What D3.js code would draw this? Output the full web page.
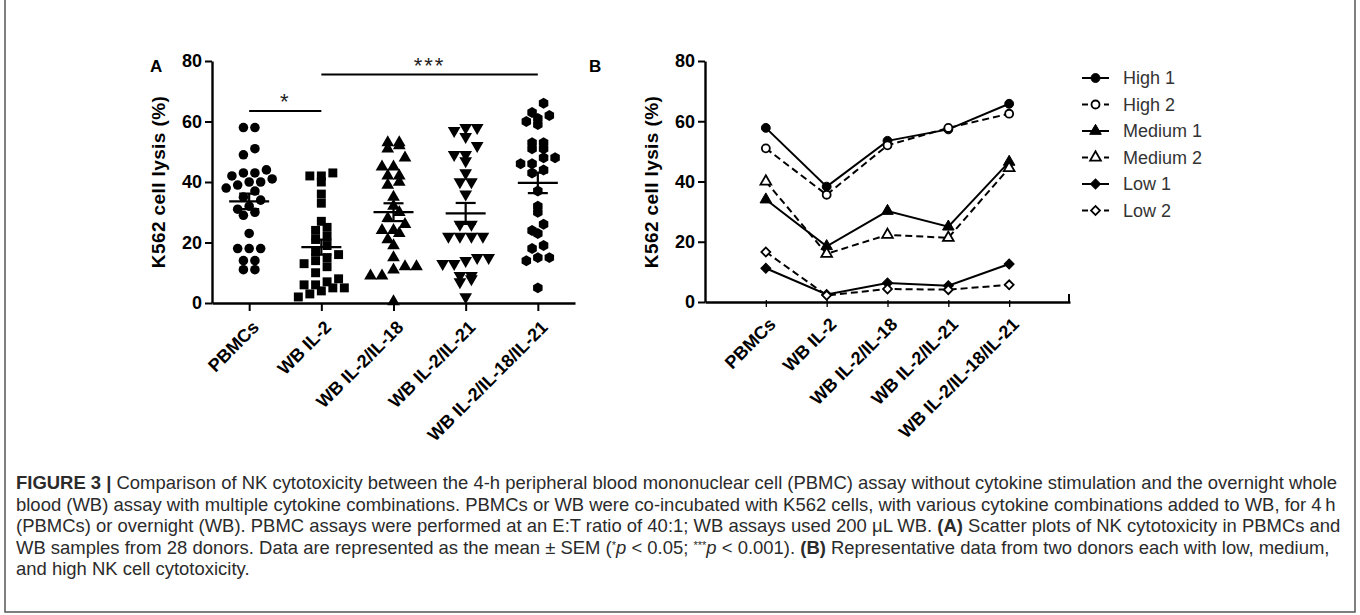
<!DOCTYPE html>
<html>
<head>
<meta charset="utf-8">
<script src="https://cdn.jsdelivr.net/npm/d3@7/dist/d3.min.js"></script>
<style>
  body { margin: 0; background: #fff; }
  text { font-family: "Liberation Sans", Arial, sans-serif; }
</style>
</head>
<body>
<svg id="fig" width="1360" height="615"></svg>
<script>
// categories
const groups = ["PBMCs", "WB IL-2", "WB IL-2/IL-18", "WB IL-2/IL-21", "WB IL-2/IL-18/IL-21"];
const yTicks = [0, 20, 40, 60, 80];

// panel A, one value per donor (28 donors)
const pbmcVals = [58, 58, 51, 49, 44, 43, 43, 42, 41, 40, 40, 39, 38, 37, 35, 34, 32, 31, 30, 29, 23, 18, 18, 18, 14, 14, 11, 11];
const il2Vals = [43, 42, 42, 40, 36, 33, 27, 25, 24, 22, 21, 19, 17, 16, 15, 14, 13, 12, 10, 8, 7, 6, 6, 5, 5, 4, 3, 2];
const il2il18Vals = [53, 53, 52, 51, 48, 45, 45, 42, 42, 40, 39, 35, 32, 30, 28, 26, 24, 24, 23, 21, 19, 15, 12, 12, 11, 9, 9, 0.5];
const il2il21Vals = [58, 58, 57, 55, 52, 49, 49, 47, 43, 40, 40, 36, 26, 26, 22, 22, 22, 22, 15, 15, 14, 13, 13, 9, 9, 8, 7, 2];
const il2il18il21Vals = [66, 63, 62, 61, 60, 59, 53, 53, 51, 51, 48, 48, 46, 46, 44, 43, 37, 32, 30, 26, 24, 23, 19, 18, 15, 15, 14, 5];
const scatterVals = [pbmcVals, il2Vals, il2il18Vals, il2il21Vals, il2il18il21Vals];

// significance bars (group index from, to, height in %)
const sigBars = [
  {from: 0, to: 1, level: 63.5, label: "*"},
  {from: 1, to: 4, level: 75.5, label: "***"}
];

// panel B, representative donors
const donorNames = ["High 1", "High 2", "Medium 1", "Medium 2", "Low 1", "Low 2"];
const high1 = [57.8, 38.3, 53.5, 57.3, 65.8];
const high2 = [51, 35.6, 52, 57.8, 62.5];
const medium1 = [34, 18.5, 30.2, 25, 46.5];
const medium2 = [40, 16, 22.3, 21.3, 44.5];
const low1 = [11.2, 2.5, 6.3, 5.4, 12.6];
const low2 = [16.6, 2.2, 4.3, 4.1, 5.7];
const donorVals = [high1, high2, medium1, medium2, low1, low2];

const svg = d3.select("#fig");

const symbolHex = {
  draw(ctx, size) {
    const r = Math.sqrt(2 * size / (3 * Math.sqrt(3)));
    for (let i = 0; i < 6; i++) {
      const a = Math.PI / 3 * i + Math.PI / 6;
      if (i === 0) ctx.moveTo(r * Math.cos(a), r * Math.sin(a));
      else ctx.lineTo(r * Math.cos(a), r * Math.sin(a));
    }
    ctx.closePath();
  }
};

function yAxisLabel(g, x, yMid) {
  g.append("text")
    .attr("transform", `translate(${x},${yMid}) rotate(-90)`)
    .attr("text-anchor", "middle")
    .style("font-size", "19px")
    .style("font-weight", "bold")
    .style("letter-spacing", "0.4px")
    .text("K562 cell lysis (%)");
}

function styleAxis(g) {
  g.selectAll("path.domain").attr("stroke", "#000").attr("stroke-width", 2.4);
  g.selectAll(".tick line").attr("stroke", "#000").attr("stroke-width", 2);
  g.selectAll(".tick text").attr("fill", "#000").style("font-weight", "bold");
}

// ---------- Panel A ----------
const xA = d3.scalePoint().domain(groups).range([212, 575]).padding(0.515);
const yA = d3.scaleLinear().domain([0, 80]).range([303, 61]);

svg.append("text").attr("x", 150).attr("y", 72)
  .style("font-size", "17px").style("font-weight", "bold").text("A");

const gyA = svg.append("g").attr("transform", "translate(212,0)")
  .call(d3.axisLeft(yA).tickValues(yTicks).tickSize(7).tickPadding(3).tickSizeOuter(0));
gyA.selectAll(".tick text").style("font-size", "18px");
styleAxis(gyA);

const gxA = svg.append("g").attr("transform", "translate(0,303)")
  .call(d3.axisBottom(xA).tickSize(8).tickSizeOuter(0));
styleAxis(gxA);
gxA.selectAll(".tick text")
  .style("font-size", "18px")
  .attr("text-anchor", "end")
  .attr("x", 0).attr("y", 0).attr("dy", "0.35em")
  .attr("transform", "translate(6,21) rotate(-45)");

yAxisLabel(svg, 165, 182);

const symbolsA = [d3.symbolCircle, d3.symbolSquare, d3.symbolTriangle, d3.symbolTriangle, symbolHex];
const sizesA = [72, 80, 70, 70, 78];
const binW = 3.6, spacing = 11.5;

scatterVals.forEach((vals, gi) => {
  const cx = xA(groups[gi]);
  const bins = d3.group(vals, v => Math.round(v / binW));
  const pts = [];
  bins.forEach(arr => {
    arr.sort((a, b) => a - b).forEach((v, i) => {
      pts.push({v, dx: (i - (arr.length - 1) / 2) * spacing});
    });
  });
  const sym = d3.symbol().type(symbolsA[gi]).size(sizesA[gi]);
  svg.append("g").selectAll("path").data(pts).join("path")
    .attr("d", sym)
    .attr("fill", "#000")
    .attr("transform", d => `translate(${cx + d.dx},${yA(d.v)})` + (gi === 3 ? " rotate(180)" : ""));

  const m = d3.mean(vals);
  const sem = d3.deviation(vals) / Math.sqrt(vals.length);
  const eb = svg.append("g").attr("stroke", "#000").attr("stroke-width", 2.2);
  eb.append("line").attr("x1", cx - 20).attr("x2", cx + 20).attr("y1", yA(m)).attr("y2", yA(m));
  eb.append("line").attr("x1", cx).attr("x2", cx).attr("y1", yA(m - sem)).attr("y2", yA(m + sem));
  [m - sem, m + sem].forEach(v => {
    eb.append("line").attr("x1", cx - 10).attr("x2", cx + 10).attr("y1", yA(v)).attr("y2", yA(v));
  });
});

sigBars.forEach(s => {
  const x1 = xA(groups[s.from]), x2 = xA(groups[s.to]);
  svg.append("line").attr("x1", x1).attr("x2", x2)
    .attr("y1", yA(s.level)).attr("y2", yA(s.level))
    .attr("stroke", "#000").attr("stroke-width", 2);
  svg.append("text").attr("x", (x1 + x2) / 2).attr("y", yA(s.level) - 2)
    .attr("text-anchor", "middle")
    .style("font-size", "22px").style("letter-spacing", "2px").attr("fill", "#222")
    .text(s.label);
});

// ---------- Panel B ----------
const xB = d3.scalePoint().domain(groups).range([705, 1070]).padding(1);
const yB = d3.scaleLinear().domain([0, 80]).range([302, 61]);

svg.append("text").attr("x", 589).attr("y", 72)
  .style("font-size", "17px").style("font-weight", "bold").text("B");

const gyB = svg.append("g").attr("transform", "translate(705,0)")
  .call(d3.axisLeft(yB).tickValues(yTicks).tickSize(7).tickPadding(3).tickSizeOuter(0));
gyB.selectAll(".tick text").style("font-size", "18px");
styleAxis(gyB);

const gxB = svg.append("g").attr("transform", "translate(0,302)")
  .call(d3.axisBottom(xB).tickSize(5).tickSizeOuter(0));
styleAxis(gxB);
gxB.selectAll(".tick line").attr("stroke-width", 1.3).attr("y1", -2);
gxB.selectAll(".tick text")
  .style("font-size", "18px")
  .attr("text-anchor", "end")
  .attr("x", 0).attr("y", 0).attr("dy", "0.35em")
  .attr("transform", "translate(6,19) rotate(-45)");
gxB.append("line").attr("x1", 1069).attr("x2", 1069).attr("y1", 1).attr("y2", -8)
  .attr("stroke", "#000").attr("stroke-width", 2);

yAxisLabel(svg, 658, 182);

const symbolsB = [d3.symbolCircle, d3.symbolCircle, d3.symbolTriangle, d3.symbolTriangle, d3.symbolSquare, d3.symbolSquare];
const sizesB = [62, 50, 58, 50, 50, 40];
const openB = [false, true, false, true, false, true];

const line = d3.line().x((d, i) => xB(groups[i])).y(d => yB(d));

function marker(g, i, x, y) {
  g.append("path")
    .attr("d", d3.symbol().type(symbolsB[i]).size(sizesB[i]))
    .attr("transform", `translate(${x},${y})` + (i >= 4 ? " rotate(45)" : ""))
    .attr("fill", openB[i] ? "#fff" : "#000")
    .attr("stroke", "#000")
    .attr("stroke-width", openB[i] ? 1.8 : 1);
}

donorVals.forEach((vals, i) => {
  svg.append("path").datum(vals)
    .attr("d", line)
    .attr("fill", "none")
    .attr("stroke", "#000")
    .attr("stroke-width", 2)
    .attr("stroke-dasharray", openB[i] ? "7,4" : null);
});
donorVals.forEach((vals, i) => {
  const g = svg.append("g");
  vals.forEach((v, j) => marker(g, i, xB(groups[j]), yB(v)));
});

// legend
const legend = svg.append("g");
donorNames.forEach((name, i) => {
  const y = 78 + i * 26.5;
  legend.append("line").attr("x1", 1082).attr("x2", 1109).attr("y1", y).attr("y2", y)
    .attr("stroke", "#000").attr("stroke-width", 2)
    .attr("stroke-dasharray", openB[i] ? "6,5" : null);
  marker(legend, i, 1095.5, y);
  legend.append("text").attr("x", 1123).attr("y", y).attr("dy", "0.36em")
    .style("font-size", "18px").attr("fill", "#333").text(name);
});

// ---------- caption ----------
const captionLines = [
  [["FIGURE 3 |", "b"], [" Comparison of NK cytotoxicity between the 4-h peripheral blood mononuclear cell (PBMC) assay without cytokine stimulation and the overnight whole", ""]],
  [["blood (WB) assay with multiple cytokine combinations. PBMCs or WB were co-incubated with K562 cells, with various cytokine combinations added to WB, for 4\u2009h", ""]],
  [["(PBMCs) or overnight (WB). PBMC assays were performed at an E:T ratio of 40:1; WB assays used 200 \u03bcL WB. ", ""], ["(A)", "b"], [" Scatter plots of NK cytotoxicity in PBMCs and", ""]],
  [["WB samples from 28 donors. Data are represented as the mean \u00b1 SEM (", ""], ["*", "sup"], ["p", "i"], [" < 0.05; ", ""], ["***", "sup"], ["p", "i"], [" < 0.001). ", ""], ["(B)", "b"], [" Representative data from two donors each with low, medium,", ""]],
  [["and high NK cell cytotoxicity.", ""]]
];

const cap = svg.append("g").attr("fill", "#2b2b2b");
const capTexts = captionLines.map((segs, li) => {
  const t = cap.append("text").attr("x", 16).attr("y", 489 + li * 21.5).style("font-size", "16px");
  segs.forEach(([s, k]) => {
    const ts = t.append("tspan").text(s);
    if (k === "b") ts.style("font-weight", "bold");
    if (k === "i") ts.style("font-style", "italic");
    if (k === "sup") ts.style("font-size", "11px").attr("dy", "-5").attr("dx", "0");
    if (k === "i" && segs.length > 1) ts.attr("dy", "5");
  });
  return t;
});
const w0 = capTexts[0].node().getComputedTextLength();
const fs = 16 * 1322 / w0;
capTexts.forEach(t => t.style("font-size", fs + "px"));

// frame
svg.append("rect").attr("x", 5).attr("y", -4).attr("width", 1350).attr("height", 616)
  .attr("fill", "none").attr("stroke", "#555").attr("stroke-width", 1.5);
</script>
</body>
</html>
